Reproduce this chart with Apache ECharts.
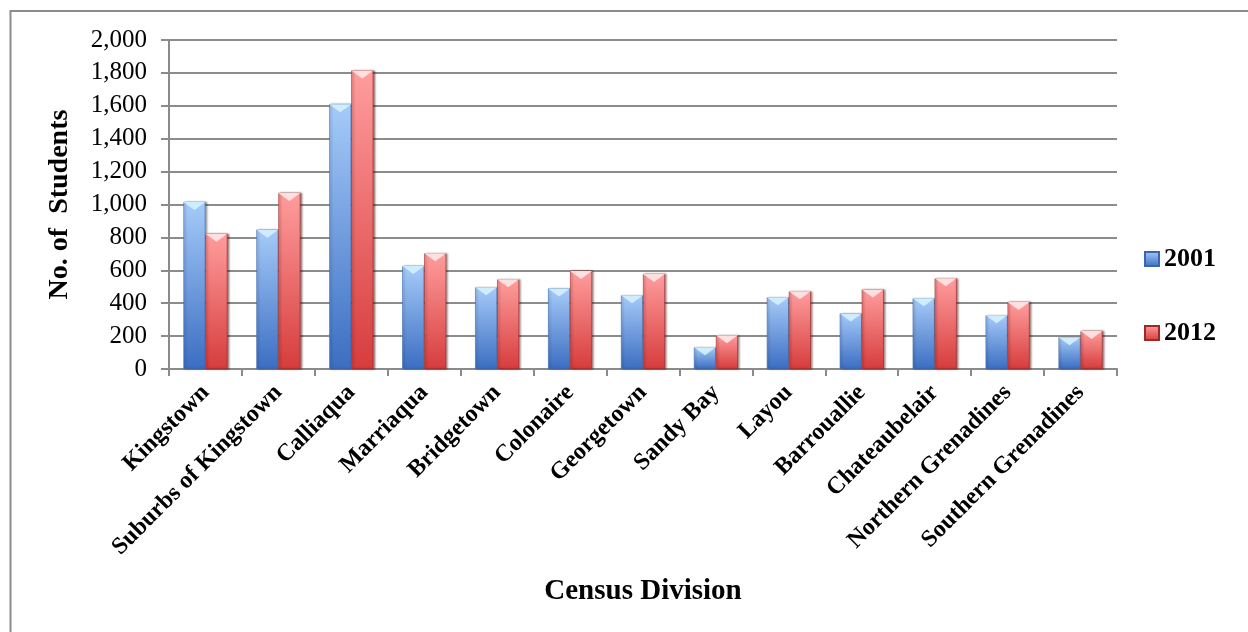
<!DOCTYPE html>
<html>
<head>
<meta charset="utf-8">
<title>No. of Students by Census Division</title>
<script src="https://cdn.jsdelivr.net/npm/echarts@6/dist/echarts.min.js"></script>
<style>
  html, body { margin: 0; padding: 0; background: #ffffff; }
  #chart { width: 1248px; height: 632px; }
</style>
</head>
<body>
<div id="chart"></div>
<script>
// Census divisions along the x axis
const divisions = [
  'Kingstown', 'Suburbs of Kingstown', 'Calliaqua', 'Marriaqua', 'Bridgetown',
  'Colonaire', 'Georgetown', 'Sandy Bay', 'Layou', 'Barrouallie',
  'Chateaubelair', 'Northern Grenadines', 'Southern Grenadines'
];

// Number of students per division
const students2001 = [1015, 847, 1610, 626, 497, 490, 448, 132, 436, 338, 430, 326, 193];
const students2012 = [822, 1070, 1815, 703, 545, 596, 577, 205, 472, 484, 551, 407, 231];

// Series names shown in the legend
const seriesNames = ['2001', '2012'];

// Value axis ticks
const yTicks = [0, 200, 400, 600, 800, 1000, 1200, 1400, 1600, 1800, 2000];

const FONT = "'Liberation Serif', 'Times New Roman', serif";

function vGrad(top, bottom) {
  return new echarts.graphic.LinearGradient(0, 0, 0, 1, [
    { offset: 0, color: top },
    { offset: 1, color: bottom }
  ]);
}

const blueFill = vGrad('#a6cbf9', '#3b6ec2');
const redFill = vGrad('#ff9d9d', '#d73c3c');

// Bevel highlight drawn on top of each bar
const capPath = 'path://M0,0L10,0L5,4Z';

const barCommon = {
  type: 'bar',
  barWidth: 22,
  barGap: '0%',
  z: 2
};

const capCommon = {
  type: 'pictorialBar',
  symbol: capPath,
  symbolSize: [22, 8],
  symbolPosition: 'end',
  barWidth: 22,
  barGap: '0%',
  z: 5,
  silent: true,
  legendHoverLink: false
};

const chart = echarts.init(document.getElementById('chart'), null, { renderer: 'canvas' });

chart.setOption({
  animation: false,
  backgroundColor: '#ffffff',
  textStyle: { fontFamily: FONT, color: '#000' },
  graphic: [{
    type: 'rect',
    shape: { x: 10.5, y: 11, width: 1260, height: 660 },
    style: { fill: 'none', stroke: '#8c8c8c', lineWidth: 2 },
    silent: true,
    z: 0
  }],
  grid: { left: 169, right: 131, top: 40, bottom: 263, containLabel: false },
  legend: {
    data: seriesNames,
    orient: 'vertical',
    left: 1139,
    top: 239,
    itemGap: 44,
    icon: 'rect',
    itemWidth: 14,
    itemHeight: 14,
    textStyle: { fontFamily: FONT, fontSize: 26, fontWeight: 'bold', color: '#000', lineHeight: 30 }
  },
  xAxis: {
    type: 'category',
    data: divisions,
    name: 'Census Division',
    nameLocation: 'middle',
    nameGap: 208,
    nameTextStyle: { fontFamily: FONT, fontSize: 29, fontWeight: 'bold', color: '#000' },
    axisLine: { lineStyle: { color: '#8a8a8a', width: 2 } },
    axisTick: { show: true, length: 7, lineStyle: { color: '#8a8a8a', width: 2 } },
    axisLabel: {
      interval: 0,
      rotate: 45,
      margin: 20,
      fontFamily: FONT,
      fontSize: 24,
      fontWeight: 'bold',
      color: '#000'
    }
  },
  yAxis: {
    type: 'value',
    min: yTicks[0],
    max: yTicks[yTicks.length - 1],
    interval: yTicks[1] - yTicks[0],
    name: 'No. of  Students',
    nameLocation: 'middle',
    nameRotate: 90,
    nameGap: 95,
    nameTextStyle: { fontFamily: FONT, fontSize: 28, fontWeight: 'bold', color: '#000' },
    axisLine: { show: true, lineStyle: { color: '#8a8a8a', width: 2 } },
    axisTick: { show: true, inside: false, length: 8, lineStyle: { color: '#8a8a8a', width: 2 } },
    splitLine: { show: true, lineStyle: { color: '#8c8c8c', width: 2 } },
    axisLabel: {
      margin: 22,
      fontFamily: FONT,
      fontSize: 25,
      color: '#000',
      formatter: v => v.toLocaleString('en-US')
    }
  },
  series: [
    Object.assign({}, barCommon, {
      name: seriesNames[0],
      data: students2001,
      itemStyle: {
        color: blueFill,
        borderColor: '#3a66ad',
        borderWidth: 0.6,
        shadowColor: 'rgba(0,0,0,0.35)',
        shadowBlur: 2,
        shadowOffsetX: 1.5
      }
    }),
    Object.assign({}, barCommon, {
      name: seriesNames[1],
      data: students2012,
      itemStyle: {
        color: redFill,
        borderColor: '#9a2a2a',
        borderWidth: 0.6,
        shadowColor: 'rgba(60,0,0,0.5)',
        shadowBlur: 2,
        shadowOffsetX: 1.5
      }
    }),
    Object.assign({}, capCommon, {
      name: 'cap-' + seriesNames[0],
      data: students2001,
      itemStyle: { color: '#d3efff', opacity: 0.95 }
    }),
    Object.assign({}, capCommon, {
      name: 'cap-' + seriesNames[1],
      data: students2012,
      itemStyle: { color: '#ffe3e3', opacity: 0.95 }
    })
  ]
});
</script>
</body>
</html>
